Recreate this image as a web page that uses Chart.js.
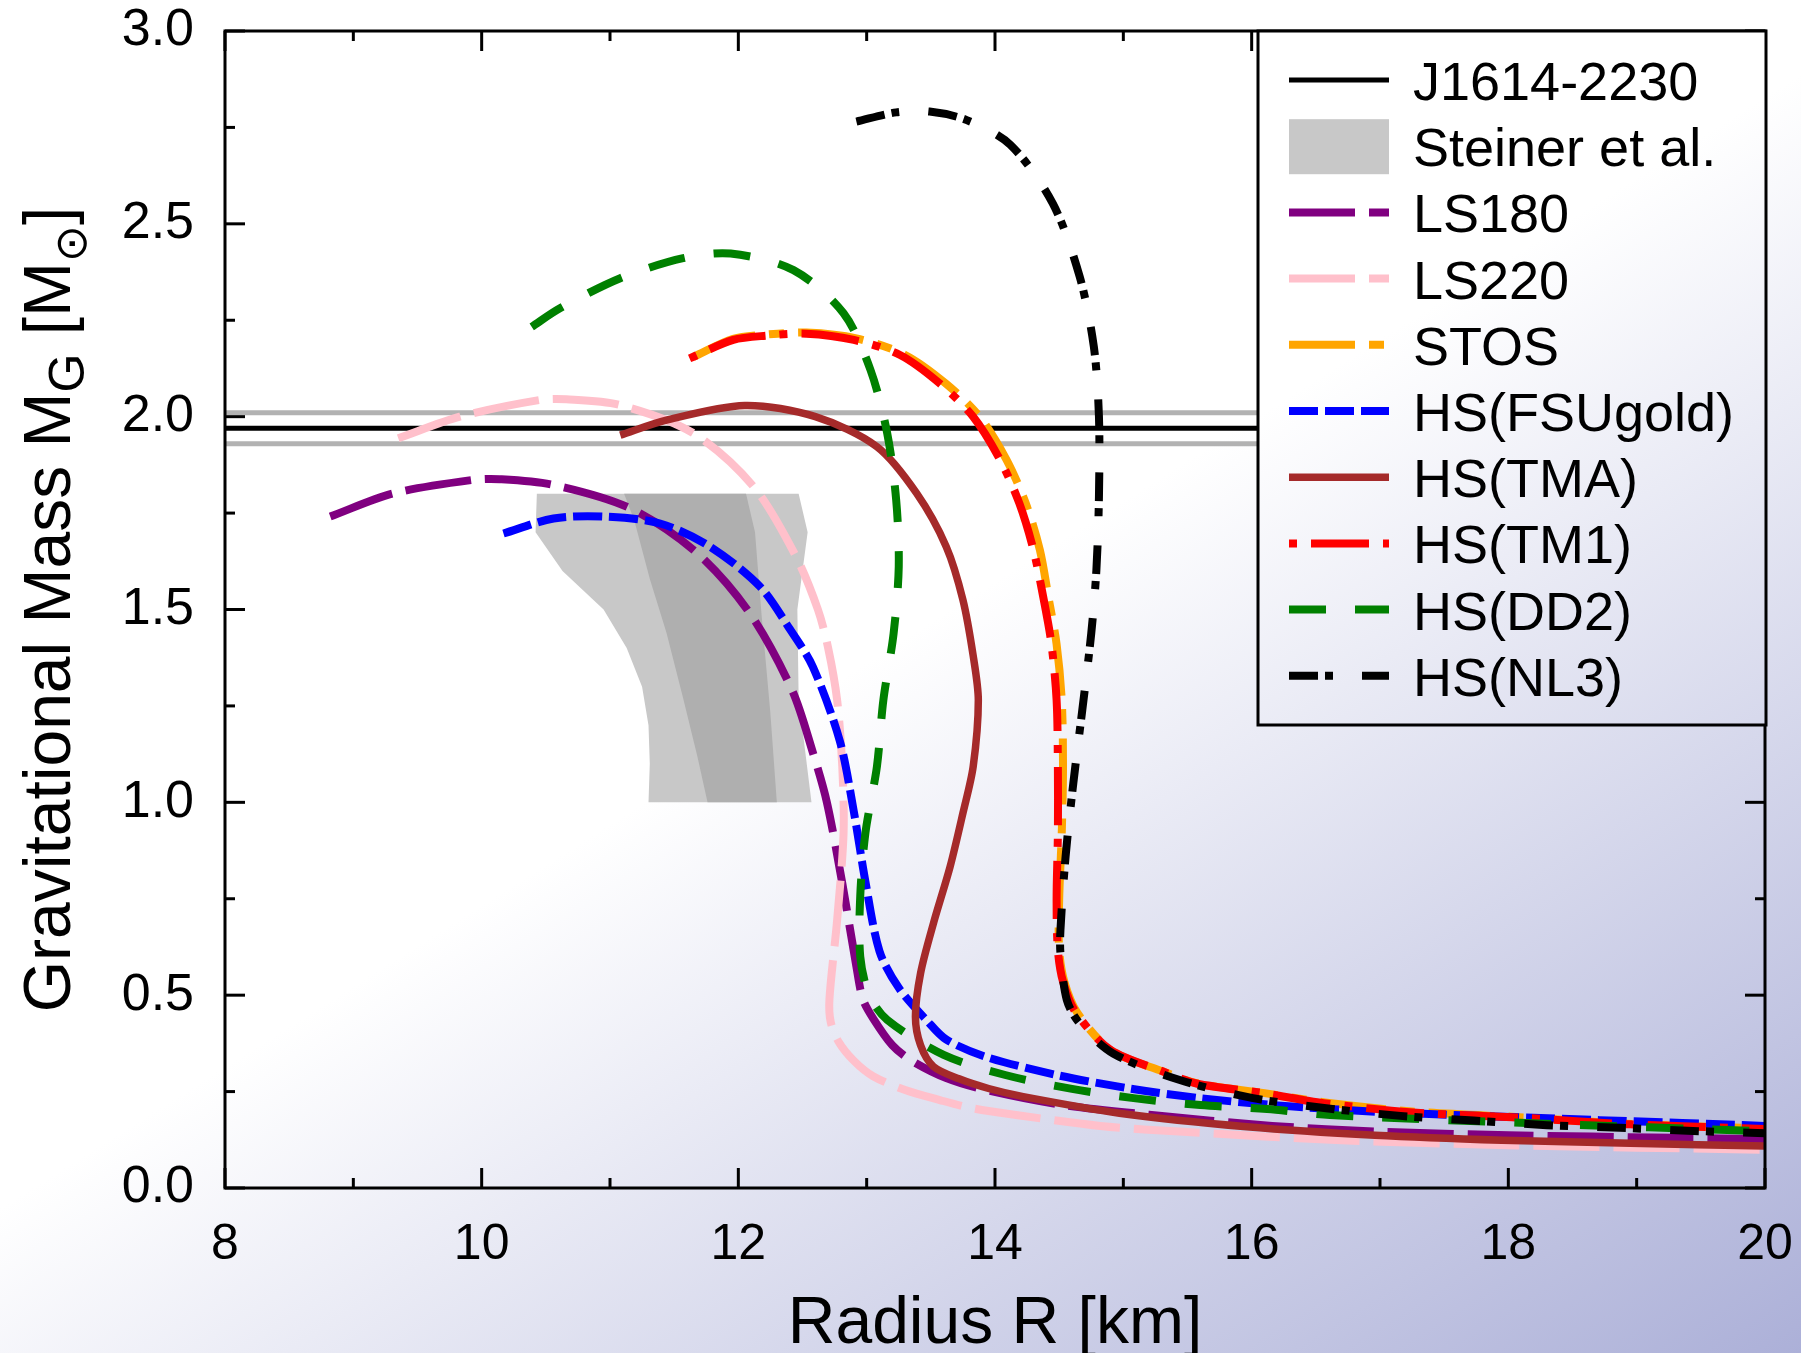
<!DOCTYPE html>
<html><head><meta charset="utf-8">
<script src="https://cdn.jsdelivr.net/npm/chart.js@4.4.1/dist/chart.umd.min.js"></script>
<style>html,body{margin:0;padding:0;background:#fff;overflow:hidden}#wrap{width:1801px;height:1353px;position:relative}</style>
</head><body><div id="wrap"><canvas id="c" width="1801" height="1353"></canvas></div>
<script>
const FONT = '"Liberation Sans", Arial, Helvetica, sans-serif';

// ---- tick labels ----
const xTicks = [8, 10, 12, 14, 16, 18, 20];
const xMinorTicks = [9, 11, 13, 15, 17, 19];
const yTicks = [0, 0.5, 1.0, 1.5, 2.0, 2.5, 3.0];
const yMinorTicks = [0.25, 0.75, 1.25, 1.75, 2.25, 2.75];

// ---- J1614-2230 measurement ----
const j1614R = [8, 20];
const j1614M = [1.97, 1.97];
const j1614Upper = [2.01, 2.01];
const j1614Lower = [1.93, 1.93];

// ---- Steiner et al. region ----
const steinerOuterR = [10.43, 12.47, 12.54, 12.46, 12.47, 12.57, 11.30, 11.31, 11.30, 11.25, 11.13, 10.95, 10.63, 10.42];
const steinerOuterM = [1.80, 1.80, 1.70, 1.50, 1.27, 1.00, 1.00, 1.10, 1.20, 1.30, 1.40, 1.50, 1.60, 1.70];
const steinerInnerR = [11.11, 12.06, 12.13, 12.18, 12.25, 12.30, 11.76, 11.68, 11.57, 11.44, 11.31, 11.19];
const steinerInnerM = [1.80, 1.80, 1.70, 1.49, 1.23, 1.00, 1.00, 1.12, 1.27, 1.44, 1.58, 1.73];

// ---- EOS mass-radius curves ----
const ls180R = [8.82, 9.31, 9.93, 10.14, 10.56, 11.16, 11.68, 12.09, 12.42, 12.58, 12.69, 12.81, 12.92, 12.97, 13.05, 13.20, 13.35, 13.62, 13.93, 14.53, 15.2, 16.16, 17.0, 18.0, 19.3, 20.0];
const ls180M = [1.741, 1.801, 1.836, 1.838, 1.823, 1.762, 1.646, 1.49, 1.29, 1.13, 1.0, 0.79, 0.574, 0.49, 0.44, 0.37, 0.33, 0.285, 0.254, 0.215, 0.19, 0.161, 0.146, 0.137, 0.130, 0.127];

const ls220R = [9.35, 9.83, 10.45, 10.66, 11.08, 11.65, 12.12, 12.45, 12.62, 12.70, 12.77, 12.81, 12.82, 12.77, 12.71, 12.72, 12.78, 12.90, 13.05, 13.30, 13.57, 13.82, 14.15, 14.82, 15.5, 16.7, 18.0, 20.0];
const ls220M = [1.944, 2.0, 2.043, 2.045, 2.03, 1.957, 1.818, 1.637, 1.50, 1.40, 1.265, 1.093, 0.92, 0.695, 0.49, 0.43, 0.38, 0.33, 0.29, 0.254, 0.228, 0.207, 0.19, 0.161, 0.145, 0.124, 0.111, 0.099];

const stosR = [11.65, 11.96, 12.22, 12.53, 12.92, 13.30, 13.62, 13.88, 14.09, 14.24, 14.35, 14.42, 14.48, 14.52, 14.53, 14.52, 14.50, 14.50, 14.54, 14.64, 14.90, 15.31, 15.58, 16.10, 16.57, 17.27, 18.18, 18.96, 20.0];
const stosM = [2.155, 2.202, 2.213, 2.218, 2.203, 2.160, 2.085, 2.0, 1.888, 1.775, 1.654, 1.525, 1.41, 1.265, 1.093, 0.92, 0.747, 0.617, 0.535, 0.455, 0.358, 0.302, 0.271, 0.246, 0.222, 0.198, 0.182, 0.166, 0.154];

const fsuR = [10.17, 10.56, 10.95, 11.39, 11.78, 12.17, 12.40, 12.58, 12.79, 12.90, 12.99, 13.10, 13.25, 13.47, 13.62, 13.93, 14.48, 15.05, 15.60, 16.17, 17.08, 18.71, 20.0];
const fsuM = [1.697, 1.736, 1.741, 1.723, 1.663, 1.559, 1.45, 1.352, 1.16, 0.976, 0.795, 0.614, 0.519, 0.434, 0.385, 0.340, 0.293, 0.258, 0.233, 0.215, 0.196, 0.176, 0.161];

const tmaR = [11.08, 11.44, 12.05, 12.60, 13.08, 13.39, 13.62, 13.75, 13.83, 13.87, 13.83, 13.75, 13.65, 13.52, 13.42, 13.38, 13.42, 13.52, 13.72, 13.95, 14.22, 14.97, 15.96, 16.96, 17.95, 18.95, 20.0];
const tmaM = [1.952, 1.991, 2.029, 2.0, 1.922, 1.801, 1.663, 1.525, 1.38, 1.265, 1.093, 0.972, 0.833, 0.686, 0.557, 0.444, 0.37, 0.315, 0.283, 0.258, 0.237, 0.194, 0.159, 0.137, 0.124, 0.116, 0.109];

const tm1R = [11.62, 11.96, 12.22, 12.53, 12.90, 13.26, 13.57, 13.83, 14.04, 14.19, 14.30, 14.38, 14.44, 14.48, 14.49, 14.49, 14.48, 14.49, 14.53, 14.63, 14.90, 15.31, 15.57, 16.09, 16.56, 17.26, 18.17, 18.95, 20.0];
const tm1M = [2.151, 2.199, 2.210, 2.215, 2.199, 2.16, 2.086, 2.0, 1.888, 1.775, 1.654, 1.525, 1.41, 1.265, 1.093, 0.92, 0.747, 0.617, 0.535, 0.455, 0.358, 0.302, 0.271, 0.246, 0.220, 0.196, 0.181, 0.165, 0.153];

const dd2R = [10.39, 10.61, 11.08, 11.57, 11.94, 12.43, 12.82, 13.03, 13.16, 13.23, 13.25, 13.21, 13.13, 13.08, 12.99, 12.95, 12.95, 13.02, 13.16, 13.60, 14.08, 14.60, 15.08, 15.60, 16.12, 16.61, 18.19, 20.0];
const dd2M = [2.233, 2.281, 2.359, 2.411, 2.423, 2.38, 2.268, 2.121, 1.957, 1.784, 1.611, 1.438, 1.265, 1.093, 0.92, 0.757, 0.60, 0.50, 0.436, 0.345, 0.293, 0.257, 0.233, 0.215, 0.205, 0.189, 0.168, 0.147];

const nl3R = [12.92, 13.23, 13.49, 13.78, 14.12, 14.45, 14.66, 14.77, 14.81, 14.81, 14.79, 14.75, 14.68, 14.61, 14.55, 14.51, 14.51, 14.56, 14.66, 14.92, 15.44, 16.01, 16.58, 17.16, 17.73, 18.30, 18.87, 19.44, 20.0];
const nl3M = [2.765, 2.789, 2.791, 2.769, 2.705, 2.553, 2.363, 2.182, 2.0, 1.793, 1.602, 1.438, 1.239, 1.049, 0.859, 0.669, 0.609, 0.487, 0.427, 0.349, 0.280, 0.233, 0.207, 0.187, 0.175, 0.163, 0.156, 0.148, 0.142];

const legendOrder = ['J1614-2230', 'Steiner et al.', 'LS180', 'LS220', 'STOS', 'HS(FSUgold)', 'HS(TMA)', 'HS(TM1)', 'HS(DD2)', 'HS(NL3)'];

// ---- helpers ----
const pts = (R, M) => R.map((r, i) => ({ x: r, y: M[i] }));
function curve(label, R, M, color, width, dash, order, offset) {
  return { label, data: pts(R, M), borderColor: color, backgroundColor: color, borderWidth: width,
    borderDash: dash, borderDashOffset: offset || 0, tension: 0.3, pointRadius: 0, pointHoverRadius: 0,
    showLine: true, fill: false, order };
}
function band(label, R, M, color, order) {
  return { label, data: pts(R, M), borderColor: 'rgba(0,0,0,0)', backgroundColor: color, borderWidth: 1,
    tension: 0, pointRadius: 0, pointHoverRadius: 0, showLine: true, fill: 'shape', order, legendBox: true };
}

const datasets = [
  curve('J1614 upper', j1614R, j1614Upper, '#b2b2b2', 5, [], 210),
  curve('J1614 lower', j1614R, j1614Lower, '#b2b2b2', 5, [], 210),
  curve('J1614-2230', j1614R, j1614M, '#000000', 5, [], 200),
  band('Steiner et al.', steinerOuterR, steinerOuterM, '#c8c8c8', 150),
  band('Steiner inner', steinerInnerR, steinerInnerM, '#afafaf', 149),
  curve('LS180', ls180R, ls180M, '#800080', 8, [66, 14], 80),
  curve('LS220', ls220R, ls220M, '#ffc0cb', 8, [66, 14], 70),
  curve('STOS', stosR, stosM, '#ffa500', 8, [66, 14, 15, 14], 60),
  curve('HS(FSUgold)', fsuR, fsuM, '#0000ff', 8, [29, 7], 50),
  curve('HS(TMA)', tmaR, tmaM, '#a52a2a', 7.5, [], 40),
  curve('HS(TM1)', tm1R, tm1M, '#ff0000', 8, [58, 14, 8, 14], 30, 72),
  curve('HS(DD2)', dd2R, dd2M, '#008000', 8, [37, 29], 20),
  curve('HS(NL3)', nl3R, nl3M, '#000000', 8, [29, 7, 8, 29], 10)
];

function pageGradient(ctx) {
  const g = ctx.createLinearGradient(545, 865, 1122, 1781);
  g.addColorStop(0, '#ffffff');
  g.addColorStop(1, 'rgb(172,176,216)');
  return g;
}

const bgPlugin = {
  id: 'bg',
  beforeDraw(chart) {
    const ctx = chart.ctx;
    ctx.save();
    ctx.fillStyle = pageGradient(ctx);
    ctx.fillRect(0, 0, chart.width, chart.height);
    ctx.restore();
  }
};

const decoPlugin = {
  id: 'deco',
  afterDraw(chart) {
    const ctx = chart.ctx;
    const { left, right, top, bottom } = chart.chartArea;
    const xs = chart.scales.x, ys = chart.scales.y;
    ctx.save();
    // frame + inward ticks
    ctx.strokeStyle = '#000';
    ctx.lineWidth = 3;
    ctx.setLineDash([]);
    const tick = (x1, y1, x2, y2) => { ctx.beginPath(); ctx.moveTo(x1, y1); ctx.lineTo(x2, y2); ctx.stroke(); };
    xTicks.forEach(v => { const p = xs.getPixelForValue(v); tick(p, bottom, p, bottom - 20); tick(p, top, p, top + 20); });
    xMinorTicks.forEach(v => { const p = xs.getPixelForValue(v); tick(p, bottom, p, bottom - 10); tick(p, top, p, top + 10); });
    yTicks.forEach(v => { const p = ys.getPixelForValue(v); tick(left, p, left + 20, p); tick(right, p, right - 20, p); });
    yMinorTicks.forEach(v => { const p = ys.getPixelForValue(v); tick(left, p, left + 10, p); tick(right, p, right - 10, p); });
    ctx.strokeRect(left, top, right - left, bottom - top);

    // legend
    const lg = { l: 1258, t: top, r: right + 1, b: 725 };
    ctx.fillStyle = pageGradient(ctx);
    ctx.fillRect(lg.l, lg.t, lg.r - lg.l, lg.b - lg.t);
    ctx.lineWidth = 3;
    ctx.strokeStyle = '#000';
    ctx.strokeRect(lg.l, lg.t, lg.r - lg.l, lg.b - lg.t);
    const dsets = chart.data.datasets;
    legendOrder.forEach((name, i) => {
      const ds = dsets.find(d => d.label === name);
      const y = 80 + i * 66.2;
      if (ds.legendBox) {
        ctx.fillStyle = ds.backgroundColor;
        ctx.fillRect(1289, y - 27, 100, 55);
      } else {
        ctx.save();
        ctx.strokeStyle = ds.borderColor;
        ctx.lineWidth = ds.borderWidth;
        ctx.setLineDash(ds.borderDash || []);
        ctx.lineDashOffset = ds.borderDashOffset || 0;
        ctx.beginPath(); ctx.moveTo(1289, y); ctx.lineTo(1389, y); ctx.stroke();
        ctx.restore();
      }
      ctx.fillStyle = '#000';
      ctx.font = '54px ' + FONT;
      ctx.textAlign = 'left';
      ctx.textBaseline = 'alphabetic';
      ctx.fillText(name, 1413, y + 20);
    });

    // x title
    ctx.fillStyle = '#000';
    ctx.font = '66px ' + FONT;
    ctx.textAlign = 'center';
    ctx.textBaseline = 'alphabetic';
    ctx.fillText('Radius R [km]', (left + right) / 2, 1343);

    // y title (rotated, with subscripts)
    const segs = [
      { t: 'Gravitational Mass M', f: '66px ' + FONT, dy: 0 },
      { t: 'G', f: '50px ' + FONT, dy: 14 },
      { t: ' [M', f: '66px ' + FONT, dy: 0 },
      { t: '\u2299', f: '44px "DejaVu Sans", ' + FONT, dy: 16 },
      { t: ']', f: '66px ' + FONT, dy: 0 }
    ];
    let W = 0;
    segs.forEach(s => { ctx.font = s.f; s.w = ctx.measureText(s.t).width; W += s.w; });
    ctx.translate(70, (top + bottom) / 2);
    ctx.rotate(-Math.PI / 2);
    ctx.textAlign = 'left';
    let x = -W / 2;
    segs.forEach(s => { ctx.font = s.f; ctx.fillText(s.t, x, s.dy); x += s.w; });
    ctx.restore();
  }
};

new Chart(document.getElementById('c'), {
  type: 'scatter',
  data: { datasets },
  options: {
    responsive: false,
    animation: false,
    devicePixelRatio: 1,
    events: [],
    layout: { padding: { left: 0, right: 36, top: 31, bottom: 0 } },
    plugins: { legend: { display: false }, tooltip: { enabled: false } },
    scales: {
      x: {
        type: 'linear', min: 8, max: 20,
        afterFit(s) { s.height = 165; s.paddingLeft = 0; s.paddingRight = 0; s.paddingTop = 0; s.paddingBottom = 0; },
        afterBuildTicks(s) { s.ticks = xTicks.map(v => ({ value: v })); },
        grid: { display: false, drawTicks: false },
        border: { display: false },
        ticks: { font: { size: 50, family: FONT }, color: '#000', padding: 27, maxRotation: 0, autoSkip: false,
          callback: v => String(v) }
      },
      y: {
        type: 'linear', min: 0, max: 3,
        afterFit(s) { s.width = 225; s.paddingLeft = 0; s.paddingRight = 0; s.paddingTop = 0; s.paddingBottom = 0; },
        afterBuildTicks(s) { s.ticks = yTicks.map(v => ({ value: v })); },
        grid: { display: false, drawTicks: false },
        border: { display: false },
        ticks: { font: { size: 52, family: FONT }, color: '#000', padding: 31, autoSkip: false,
          callback: v => Number(v).toFixed(1) }
      }
    }
  },
  plugins: [bgPlugin, decoPlugin]
});
</script>
</body></html>
